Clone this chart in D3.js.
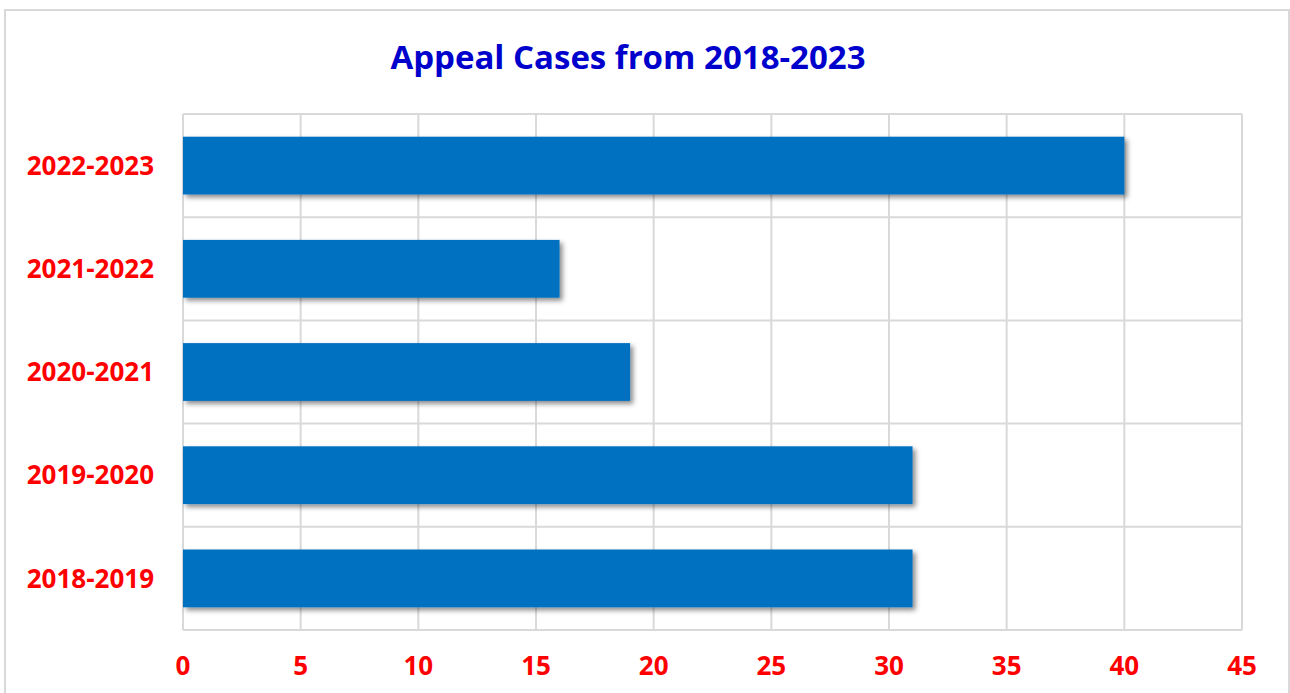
<!DOCTYPE html>
<html>
<head>
<meta charset="utf-8">
<script src="https://cdn.jsdelivr.net/npm/d3@7"></script>
<style>
  body { margin: 0; background: #fff; }
  svg { display: block; }
</style>
</head>
<body>
<svg width="1290" height="693"></svg>
<script>
var periods = ["2018-2019", "2019-2020", "2020-2021", "2021-2022", "2022-2023"];
var cases = [31, 31, 19, 16, 40];
var xTicks = [0, 5, 10, 15, 20, 25, 30, 35, 40, 45];
var title = "Appeal Cases from 2018-2023";

var data = periods.map(function(p, i) { return {period: p, value: cases[i]}; });

var svg = d3.select("svg"),
    margin = {top: 114, right: 48, bottom: 63, left: 183},
    width = svg.attr("width") - margin.left - margin.right,
    height = svg.attr("height") - margin.top - margin.bottom;

// outer chart border
svg.append("rect")
    .attr("x", 5).attr("y", 10)
    .attr("width", 1284).attr("height", 690)
    .attr("fill", "#fff")
    .attr("stroke", "#d9d9d9")
    .attr("stroke-width", 2);

var defs = svg.append("defs");
defs.append("filter")
    .attr("id", "shadow")
    .attr("x", "-10%").attr("y", "-20%")
    .attr("width", "130%").attr("height", "160%")
  .append("feDropShadow")
    .attr("dx", 3).attr("dy", 3)
    .attr("stdDeviation", 2.5)
    .attr("flood-color", "#000")
    .attr("flood-opacity", 0.45);

var g = svg.append("g").attr("transform", "translate(" + margin.left + "," + margin.top + ")");

var x = d3.scaleLinear().domain([0, 45]).range([0, width]);
var y = d3.scaleBand().domain(periods.slice().reverse()).range([0, height]).paddingInner(0.44).paddingOuter(0.22);
var yGrid = d3.scaleBand().domain(periods.slice().reverse()).range([0, height]);

// vertical gridlines
g.append("g")
  .selectAll("line")
  .data(xTicks)
  .enter().append("line")
    .attr("x1", function(d) { return x(d); })
    .attr("x2", function(d) { return x(d); })
    .attr("y1", 0)
    .attr("y2", height)
    .attr("stroke", "#d9d9d9")
    .attr("stroke-width", 2);

// horizontal lines between categories
var hLines = [0].concat(periods.map(function(p) { return yGrid(p) + yGrid.bandwidth(); }));
g.append("g")
  .selectAll("line")
  .data(hLines)
  .enter().append("line")
    .attr("x1", 0)
    .attr("x2", width)
    .attr("y1", function(d) { return d; })
    .attr("y2", function(d) { return d; })
    .attr("stroke", "#d9d9d9")
    .attr("stroke-width", 2);

// bars
g.append("g")
  .selectAll("rect")
  .data(data)
  .enter().append("rect")
    .attr("x", x(0))
    .attr("y", function(d) { return y(d.period); })
    .attr("width", function(d) { return x(d.value) - x(0); })
    .attr("height", y.bandwidth())
    .attr("fill", "#0070c0")
    .attr("filter", "url(#shadow)");

// category labels
g.append("g")
  .selectAll("text")
  .data(periods)
  .enter().append("text")
    .attr("x", -29)
    .attr("y", function(d) { return yGrid(d) + yGrid.bandwidth() / 2; })
    .attr("dy", "0.35em")
    .attr("text-anchor", "end")
    .attr("fill", "#ff0000")
    .style("font", "bold 26px 'Open Sans', sans-serif")
    .text(function(d) { return d; });

// x tick labels
g.append("g")
  .selectAll("text")
  .data(xTicks)
  .enter().append("text")
    .attr("x", function(d) { return x(d); })
    .attr("y", height + 45)
    .attr("text-anchor", "middle")
    .attr("fill", "#ff0000")
    .style("font", "bold 26px 'Open Sans', sans-serif")
    .text(function(d) { return d; });

svg.append("text")
    .attr("x", 628)
    .attr("y", 69)
    .attr("text-anchor", "middle")
    .attr("fill", "#0000cc")
    .style("font", "bold 33px 'Open Sans', sans-serif")
    .text(title);
</script>
</body>
</html>
